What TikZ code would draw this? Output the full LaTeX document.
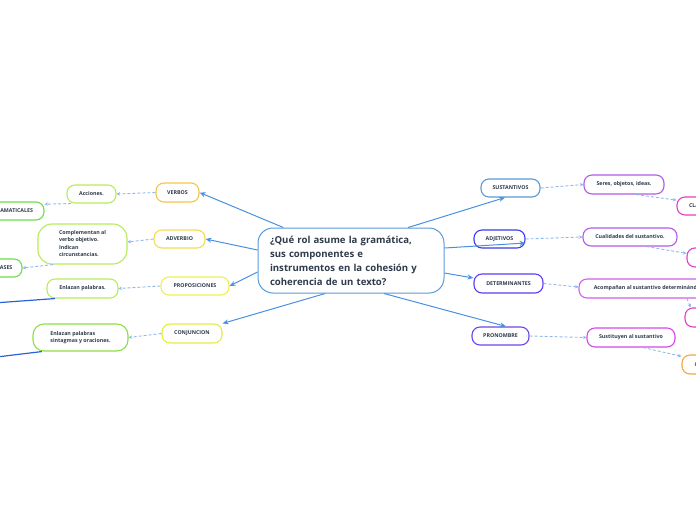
\documentclass[tikz,border=0pt]{standalone}
\usepackage{fontspec}
\setmainfont{Open Sans}
\usetikzlibrary{arrows.meta}
\definecolor{txt}{HTML}{2E3B4A}
\definecolor{cblue}{HTML}{5A9AD8}
\definecolor{spoke}{HTML}{4A90E2}
\definecolor{dblue}{HTML}{2962D9}
\definecolor{dash}{HTML}{8FB8EE}
\definecolor{corange}{HTML}{F7C546}
\definecolor{cyel1}{HTML}{F5DC50}
\definecolor{cyel2}{HTML}{EEF050}
\definecolor{cyel3}{HTML}{E2EE40}
\definecolor{lgreen}{HTML}{B8EC5A}
\definecolor{cgreen}{HTML}{6FDC4A}
\definecolor{mgreen}{HTML}{8CE044}
\definecolor{sust}{HTML}{5B9BD5}
\definecolor{adje}{HTML}{3B3BEF}
\definecolor{dete}{HTML}{5D3CF0}
\definecolor{pron}{HTML}{6B45E8}
\definecolor{purp1}{HTML}{B25BE6}
\definecolor{purp2}{HTML}{D060E8}
\definecolor{purp3}{HTML}{D548E8}
\definecolor{pink}{HTML}{E63CCC}
\definecolor{orng}{HTML}{F5A53A}
\tikzset{
  box/.style={draw=#1, line width=1.1pt, rounded corners=8pt, fill=white,
    text=txt, font=\fontsize{5.3}{7.3}\selectfont\bfseries, inner sep=0pt, align=center},
  spokeline/.style={draw=spoke, line width=1pt, -{Stealth[length=6pt,width=5pt]}},
  dashline/.style={draw=dash, line width=0.9pt, dashed, dash pattern=on 3pt off 2pt, -{Stealth[length=3.5pt,width=3.5pt]}},
  farline/.style={draw=dblue, line width=1.2pt}
}
\begin{document}
\begin{tikzpicture}[x=1pt,y=-1pt]
\useasboundingbox (0,0) rectangle (696,520);
% central
\node[draw=cblue, line width=1pt, rounded corners=15pt, fill=white, minimum width=186pt, minimum height=65pt,
  text width=162pt, align=left, inner sep=0pt, text=txt, font=\fontsize{9.6}{14}\selectfont\bfseries]
  (c) at (351,260.5) {¿Qué rol asume la gramática,\\sus componentes e\\instrumentos en la cohesión y\\coherencia de un texto?};
% left side
\node[box=corange, minimum width=43pt, minimum height=19pt] (verbos) at (177.5,192.5) {VERBOS};
\node[box=lgreen, minimum width=49pt, minimum height=18pt] (acc) at (91.5,194) {Acciones.};
\node[box=cgreen, minimum width=96pt, minimum height=18pt] (gram) at (-4,211) {CATEGORIAS GRAMATICALES};
\node[box=cyel1, minimum width=51pt, minimum height=18pt] (adv) at (179.5,239) {ADVERBIO};
\node[box=lgreen, minimum width=89pt, minimum height=40pt, rounded corners=14pt] (comp) at (82.5,244)
  {\begin{tabular}{@{}l@{}}Complementan al\\verbo objetivo.\\Indican\\circunstancias.\end{tabular}};
\node[box=cgreen, minimum width=38pt, minimum height=18pt] (ases) at (3,268) {CLASES};
\node[box=cyel2, minimum width=68pt, minimum height=18pt] (prop) at (195,286) {PROPOSICIONES};
\node[box=lgreen, minimum width=71pt, minimum height=19pt] (enl1) at (82.5,288.5) {Enlazan palabras.};
\node[box=cyel3, minimum width=60pt, minimum height=19pt] (conj) at (192,333.5) {CONJUNCION};
\node[box=mgreen, minimum width=95pt, minimum height=27pt, rounded corners=11pt] (enl2) at (80.5,337.5)
  {\begin{tabular}{@{}l@{}}Enlazan palabras\\sintagmas y oraciones.\end{tabular}};
% right side
\node[box=sust, minimum width=59pt, minimum height=18pt] (sus) at (510.5,188) {SUSTANTIVOS};
\node[box=purp1, minimum width=80pt, minimum height=19pt] (ser) at (624,184.5) {Seres, objetos, ideas.};
\node[box=pink, minimum width=43pt, minimum height=18pt] (cla) at (698.5,206) {CLASES};
\node[box=adje, minimum width=51pt, minimum height=18pt] (adj) at (499.5,239) {ADJETIVOS};
\node[box=purp1, minimum width=94pt, minimum height=18pt] (cua) at (630,237) {Cualidades del sustantivo.};
\node[box=pink, minimum width=46pt, minimum height=19pt] (pk2) at (710,257.5) {};
\node[box=dete, minimum width=69pt, minimum height=19pt] (det) at (508.5,283.5) {DETERMINANTES};
\node[box=purp2, minimum width=141pt, minimum height=19pt] (aco) at (649.5,288.5) {Acompañan al sustantivo determinándolo};
\node[box=pink, minimum width=46pt, minimum height=19pt] (pk3) at (708,317.5) {};
\node[box=pron, minimum width=57pt, minimum height=18pt] (pro) at (500.5,336) {PRONOMBRE};
\node[box=purp3, minimum width=88pt, minimum height=19pt] (sti) at (631,337.5) {Sustituyen al sustantivo};
\node[box=orng, minimum width=44pt, minimum height=19pt] (org) at (704,364.5) {CLASES};
% spokes
\draw[spokeline] (c.154) -- (verbos.east);
\draw[spokeline] (c.west |- 0,250) -- (adv.east);
\draw[spokeline] (c.west |- 0,272) -- (prop.east);
\draw[spokeline] (c.232) -- (conj.north east);
\draw[spokeline] (c.30) -- (sus.-120);
\draw[spokeline] (c.east |- 0,248) -- (adj.east |- 0,243);
\draw[spokeline] (c.east |- 0,273) -- (det.west |- 0,278);
\draw[spokeline] (c.-45) -- (pro.60);
% dashed
\draw[dashline] (verbos.west) -- (acc.east);
\draw[dashline] (acc.205) -- (gram.8);
\draw[dashline] (adv.west) -- (comp.east |- 0,242);
\draw[dashline] (comp.215) -- (ases.east);
\draw[dashline] (prop.west) -- (enl1.east);
\draw[dashline] (conj.west) -- (enl2.east);
\draw[dashline] (sus.east) -- (ser.west);
\draw[dashline] (ser.-40) -- (cla.165);
\draw[dashline] (adj.east) -- (cua.west);
\draw[dashline] (cua.-30) -- (pk2.170);
\draw[dashline] (det.east) -- (aco.west |- 0,287);
\draw[dashline] (aco.-15) -- (pk3.150);
\draw[dashline] (pro.east) -- (sti.west);
\draw[dashline] (sti.-40) -- (org.160);
% lines from off-picture
\coordinate (off1) at (-20,304);
\coordinate (off2) at (-20,359);
\draw[farline] (off1) -- (enl1.200);
\draw[farline] (off2) -- (enl2.200);
\end{tikzpicture}
\end{document}
